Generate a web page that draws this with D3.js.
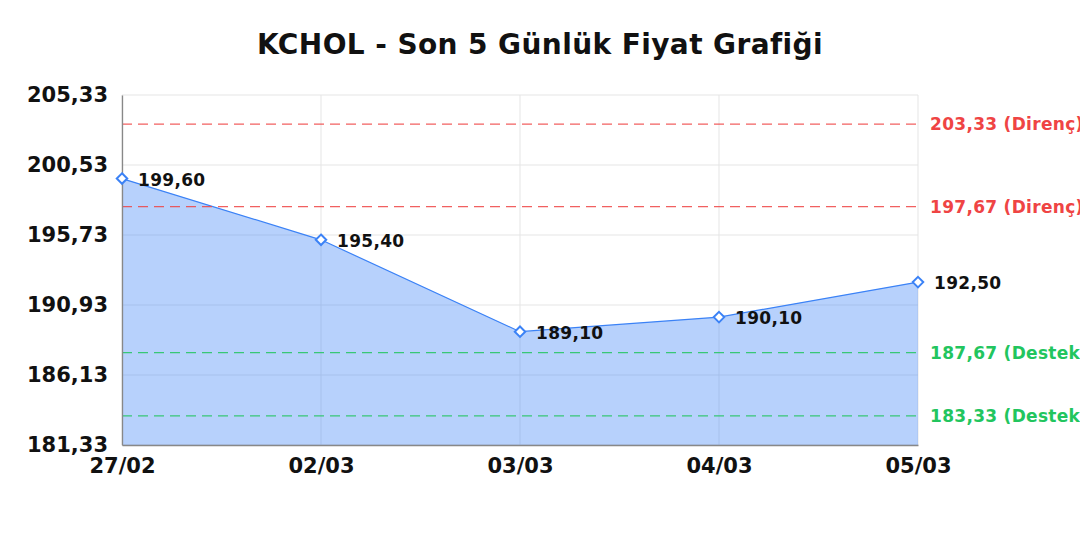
<!DOCTYPE html>
<html>
<head>
<meta charset="utf-8">
<script src="https://cdn.jsdelivr.net/npm/d3@7"></script>
<style>
  body { margin: 0; background: #fff; }
  svg { display: block; font-family: "DejaVu Sans", sans-serif; }
</style>
</head>
<body>
<div id="chart"></div>
<script>
/// DATA

const dates = ["27/02", "02/03", "03/03", "04/03", "05/03"]
const prices = [199.6, 195.4, 189.1, 190.1, 192.5]
const yTicks = [181.33, 186.13, 190.93, 195.73, 200.53, 205.33]
const resistance = [203.33, 197.67]
const support = [187.67, 183.33]

const width = 1080
const height = 540

const margins = {
  top: 95,
  right: 162,
  bottom: 95,
  left: 122,
}

const fmt = (v) => v.toFixed(2).replace(".", ",")

/// SCALES

const xScale = d3
  .scalePoint()
  .domain(dates)
  .range([margins.left, width - margins.right])

const yScale = d3
  .scaleLinear()
  .domain([181.33, 205.33])
  .range([height - margins.bottom, margins.top])

const svg = d3
  .select("#chart")
  .append("svg")
  .attr("width", width)
  .attr("height", height)
  .attr("viewBox", [0, 0, width, height])

svg
  .append("text")
  .attr("x", width / 2)
  .attr("y", 54)
  .attr("text-anchor", "middle")
  .style("font-size", "28px")
  .style("font-weight", "bold")
  .style("letter-spacing", "0.4px")
  .style("fill", "#111")
  .text("KCHOL - Son 5 Günlük Fiyat Grafiği")

// GRID

const grid = svg.append("g")

grid
  .selectAll(".hgrid")
  .data(yTicks)
  .join("line")
  .attr("x1", margins.left)
  .attr("x2", width - margins.right)
  .attr("y1", (d) => yScale(d))
  .attr("y2", (d) => yScale(d))
  .attr("stroke", "#e5e5e5")
  .attr("stroke-width", 1)

grid
  .selectAll(".vgrid")
  .data(dates)
  .join("line")
  .attr("x1", (d) => xScale(d))
  .attr("x2", (d) => xScale(d))
  .attr("y1", margins.top)
  .attr("y2", height - margins.bottom)
  .attr("stroke", "#e5e5e5")
  .attr("stroke-width", 1)

// AREA + LINE

const points = dates.map((d, i) => ({ date: d, price: prices[i] }))

const areaGenerator = d3
  .area()
  .x((d) => xScale(d.date))
  .y0(yScale(181.33))
  .y1((d) => yScale(d.price))

const lineGenerator = d3
  .line()
  .x((d) => xScale(d.date))
  .y((d) => yScale(d.price))

svg
  .append("path")
  .datum(points)
  .attr("d", areaGenerator)
  .attr("fill", "rgba(59,130,246,0.37)")

svg
  .append("path")
  .datum(points)
  .attr("d", lineGenerator)
  .attr("fill", "none")
  .attr("stroke", "#3b82f6")
  .attr("stroke-width", 1.2)

// REFERENCE LINES

const refLines = resistance
  .map((v) => ({ v, label: "Direnç", color: "#ef4444" }))
  .concat(support.map((v) => ({ v, label: "Destek", color: "#22c55e" })))

svg
  .selectAll(".ref")
  .data(refLines)
  .join("line")
  .attr("x1", margins.left)
  .attr("x2", width - margins.right)
  .attr("y1", (d) => yScale(d.v))
  .attr("y2", (d) => yScale(d.v))
  .attr("stroke", (d) => d.color)
  .attr("stroke-opacity", 0.85)
  .attr("stroke-width", 1.3)
  .attr("stroke-dasharray", "10,6")

svg
  .selectAll(".reflabel")
  .data(refLines)
  .join("text")
  .attr("x", width - margins.right + 12)
  .attr("y", (d) => yScale(d.v) + 6)
  .style("font-size", "17px")
  .style("font-weight", "bold")
  .style("letter-spacing", "0.3px")
  .style("fill", (d) => d.color)
  .text((d) => fmt(d.v) + " (" + d.label + ")")

// AXES

const yAxis = svg
  .append("g")
  .attr("transform", `translate(${margins.left},0)`)
  .call(
    d3.axisLeft(yScale).tickValues(yTicks).tickFormat(fmt).tickSize(0).tickPadding(14)
  )
yAxis.select(".domain").attr("stroke", "#888").attr("stroke-width", 1.3)
yAxis
  .selectAll("text")
  .style("font-size", "21px")
  .style("font-weight", "bold")
  .style("fill", "#111")
  .style("font-family", "DejaVu Sans")

const xAxis = svg
  .append("g")
  .attr("transform", `translate(0,${height - margins.bottom})`)
  .call(d3.axisBottom(xScale).tickSize(0).tickPadding(13).tickSizeOuter(0))
xAxis.select(".domain").attr("stroke", "#888").attr("stroke-width", 1.3)
xAxis
  .selectAll("text")
  .style("font-size", "21px")
  .style("font-weight", "bold")
  .style("fill", "#111")
  .style("font-family", "DejaVu Sans")

// MARKERS + LABELS

svg
  .selectAll(".marker")
  .data(points)
  .join("path")
  .attr("d", d3.symbol(d3.symbolDiamond2, 70))
  .attr("transform", (d) => `translate(${xScale(d.date)},${yScale(d.price)})`)
  .attr("fill", "#fff")
  .attr("stroke", "#3b82f6")
  .attr("stroke-width", 2)

svg
  .selectAll(".vlabel")
  .data(points)
  .join("text")
  .attr("x", (d) => xScale(d.date) + 16)
  .attr("y", (d) => yScale(d.price) + 7)
  .style("font-size", "17px")
  .style("font-weight", "bold")
  .style("letter-spacing", "0.3px")
  .style("fill", "#111")
  .text((d) => fmt(d.price))
</script>
</body>
</html>
